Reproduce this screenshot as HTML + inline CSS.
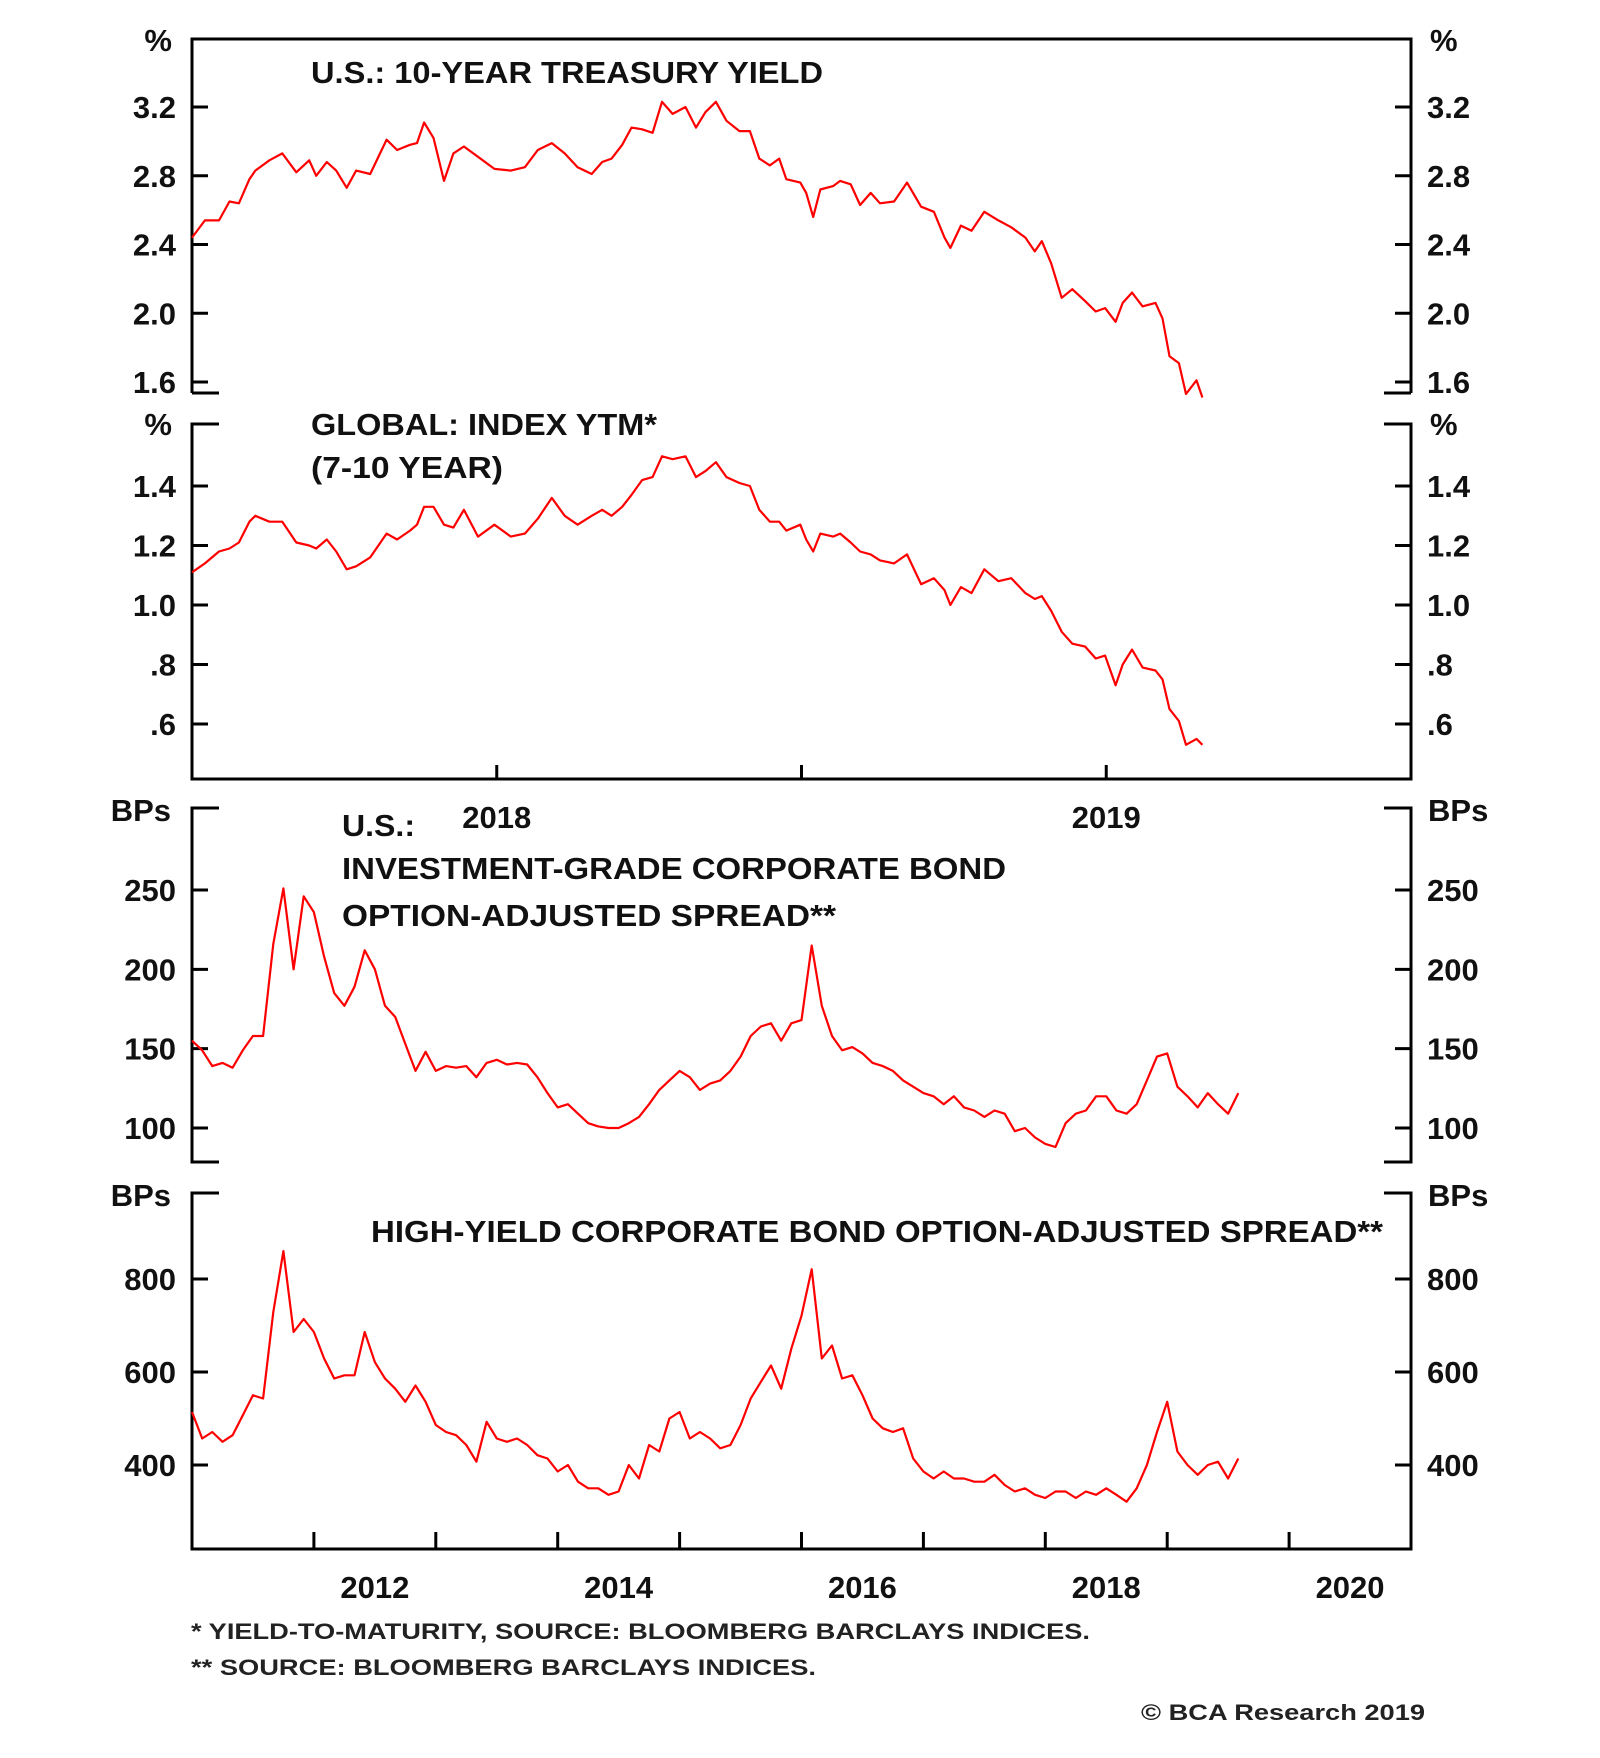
<!DOCTYPE html>
<html><head><meta charset="utf-8"><style>
html,body{margin:0;padding:0;background:#fff}
svg{display:block}
text{font-family:"Liberation Sans",Arial,sans-serif;fill:#111}
.t{font-weight:bold;font-size:31px}
.ttl{font-weight:bold;font-size:31px}
.fn{font-size:22px;font-weight:bold;fill:#222}
</style></head><body>
<svg id="chart" width="1600" height="1758" viewBox="0 0 1600 1758">
<rect x="0" y="0" width="1600" height="1758" fill="#fff"/>
<g id="frames" fill="none" stroke="#000" stroke-width="3"></g>
<g id="ticks" stroke="#000" stroke-width="3"></g>
<g id="labels"></g>
<g id="lines" fill="none" stroke="#ff0000" stroke-width="2.2" stroke-linejoin="round"></g>
<text class="ttl" x="311" y="83" textLength="512" lengthAdjust="spacingAndGlyphs">U.S.: 10-YEAR TREASURY YIELD</text>
<text class="ttl" x="311" y="435" textLength="346" lengthAdjust="spacingAndGlyphs">GLOBAL: INDEX YTM*</text>
<text class="ttl" x="311" y="478" textLength="192" lengthAdjust="spacingAndGlyphs">(7-10 YEAR)</text>
<text class="ttl" x="342" y="836" textLength="73" lengthAdjust="spacingAndGlyphs">U.S.:</text>
<text class="ttl" x="342" y="879" textLength="664" lengthAdjust="spacingAndGlyphs">INVESTMENT-GRADE CORPORATE BOND</text>
<text class="ttl" x="342" y="926" textLength="494" lengthAdjust="spacingAndGlyphs">OPTION-ADJUSTED SPREAD**</text>
<text class="ttl" x="371" y="1242" textLength="1012" lengthAdjust="spacingAndGlyphs">HIGH-YIELD CORPORATE BOND OPTION-ADJUSTED SPREAD**</text>
<text class="fn" x="191" y="1639" textLength="899" lengthAdjust="spacingAndGlyphs">*  YIELD-TO-MATURITY, SOURCE: BLOOMBERG BARCLAYS INDICES.</text>
<text class="fn" x="191" y="1675" textLength="625" lengthAdjust="spacingAndGlyphs">** SOURCE: BLOOMBERG BARCLAYS INDICES.</text>
<text class="fn" x="1141" y="1720" textLength="284" lengthAdjust="spacingAndGlyphs">© BCA Research 2019</text>
</svg>
<script>
const weeks = [0,1.1,2.3,3.2,4.0,4.9,5.4,6.6,7.7,8.9,10,10.6,11.5,12.3,13.2,14,15.2,16.6,17.5,18.6,19.2,19.8,20.6,21.5,22.3,23.2,24.4,25.8,27.2,28.4,29.5,30.7,31.8,32.9,34.1,35,35.8,36.7,37.5,38.4,39.3,40.1,41,42.1,43,43.8,44.7,45.6,46.7,47.6,48.4,49.3,50.1,50.7,51.9,52.4,53,53.6,54.7,55.3,56.2,57,57.9,58.7,59.9,61,62.2,63.3,64.2,64.7,65.6,66.5,67.6,68.8,69.9,71.1,71.9,72.5,73.3,74.2,75.1,76.2,77.1,77.9,78.8,79.4,80.2,81.1,82.2,82.8,83.4,84.2,84.8,85.7,86.2];
const ust10y = [2.44,2.54,2.54,2.65,2.64,2.78,2.83,2.89,2.93,2.82,2.89,2.80,2.88,2.83,2.73,2.83,2.81,3.01,2.95,2.98,2.99,3.11,3.02,2.77,2.93,2.97,2.91,2.84,2.83,2.85,2.95,2.99,2.93,2.85,2.81,2.88,2.90,2.98,3.08,3.07,3.05,3.23,3.16,3.20,3.08,3.17,3.23,3.12,3.06,3.06,2.90,2.86,2.90,2.78,2.76,2.70,2.56,2.72,2.74,2.77,2.75,2.63,2.70,2.64,2.65,2.76,2.62,2.59,2.44,2.38,2.51,2.48,2.59,2.54,2.50,2.44,2.36,2.42,2.29,2.09,2.14,2.07,2.01,2.03,1.95,2.06,2.12,2.04,2.06,1.97,1.75,1.71,1.53,1.61,1.51];
const globalYtm = [1.11,1.14,1.18,1.19,1.21,1.28,1.30,1.28,1.28,1.21,1.20,1.19,1.22,1.18,1.12,1.13,1.16,1.24,1.22,1.25,1.27,1.33,1.33,1.27,1.26,1.32,1.23,1.27,1.23,1.24,1.29,1.36,1.30,1.27,1.30,1.32,1.30,1.33,1.37,1.42,1.43,1.50,1.49,1.50,1.43,1.45,1.48,1.43,1.41,1.40,1.32,1.28,1.28,1.25,1.27,1.22,1.18,1.24,1.23,1.24,1.21,1.18,1.17,1.15,1.14,1.17,1.07,1.09,1.05,1.00,1.06,1.04,1.12,1.08,1.09,1.04,1.02,1.03,0.98,0.91,0.87,0.86,0.82,0.83,0.73,0.80,0.85,0.79,0.78,0.75,0.65,0.61,0.53,0.55,0.53];
const igSpread = [155,149,139,141,138,149,158,158,216,251,200,246,236,208,185,177,189,212,200,177,170,153,136,148,136,139,138,139,132,141,143,140,141,140,132,122,113,115,109,103,101,100,100,103,107,115,124,130,136,132,124,128,130,136,145,158,164,166,155,166,168,215,177,158,149,151,147,141,139,136,130,126,122,120,115,120,113,111,107,111,109,98,100,94,90,88,103,109,111,120,120,111,109,115,130,145,147,126,120,113,122,115,109,122];
const hySpread = [514,457,471,450,464,507,550,543,729,860,686,714,686,629,586,593,593,686,621,586,564,536,571,536,486,471,464,443,407,493,457,450,457,443,421,414,386,400,364,350,350,336,343,400,371,443,429,500,514,457,471,457,436,443,486,543,579,614,564,650,721,821,629,657,586,593,550,500,479,471,479,414,386,371,386,371,371,364,364,379,357,343,350,336,329,343,343,329,343,336,350,336,321,350,400,471,536,429,400,379,400,407,371,414];
const ustTicks = ["3.2","2.8","2.4","2.0","1.6"];
const ustTickVals = [3.2,2.8,2.4,2.0,1.6];
const gTicks = ["1.4","1.2","1.0",".8",".6"];
const gTickVals = [1.4,1.2,1.0,0.8,0.6];
const igTickVals = [250,200,150,100];
const hyTickVals = [800,600,400];
const topYearLabels = ["2018","2019"];
const topYearWeeks = [26,78];
const topTickWeeks = [26,52,78];
const bottomYearLabels = ["2012","2014","2016","2018","2020"];
const bottomYears = [2012,2014,2016,2018,2020];

const NS="http://www.w3.org/2000/svg";
const L=192,R=1411;
const xw = w => L + w/104*(R-L);
const xm = m => L + m/120*(R-L);
const xy = y => L + (y-2011)*12/120*(R-L);
const lin=(v0,p0,v1,p1)=>v=>p0+(v-v0)/(v1-v0)*(p1-p0);
const y1=lin(3.2,107,1.6,382), y2=lin(1.4,486,0.6,724), y3=lin(250,890,100,1128), y4=lin(800,1279,400,1465);

function mk(parent,tag,attrs,txt){const e=document.createElementNS(NS,tag);for(const k in attrs)e.setAttribute(k,attrs[k]);if(txt!=null)e.textContent=txt;document.getElementById(parent).appendChild(e);return e;}

// frames
const fr=[];
fr.push(`M${L} 393 V39 H${R} V393`);
fr.push(`M${L} 393 H${L+27} M${R} 393 H${R-27}`);
fr.push(`M${L+27} 424 H${L} V779 H${R} V424 H${R-27}`);
fr.push(`M${L+27} 808 H${L} V1162 H${L+27} M${R-27} 808 H${R} V1162 H${R-27}`);
fr.push(`M${L+27} 1193 H${L} V1549 H${R} V1193 H${R-27}`);
const fp=mk('frames','path',{d:fr.join(' ')});



function yAxis(vals,labs,sc,name){
  vals.forEach((v,i)=>{
    const y=sc(v);
    const t=mk('ticks','path',{d:`M${L} ${y} H${L+16} M${R} ${y} H${R-16}`});
    
    
    const a=mk('labels','text',{x:176,y:y+11,'text-anchor':'end',class:'t'},labs[i]);
    
    
    const b=mk('labels','text',{x:1427,y:y+11,class:'t'},labs[i]);
    
    
  });
}
yAxis(ustTickVals,ustTicks,y1,'ust-axis');
yAxis(gTickVals,gTicks,y2,'global-axis');
yAxis(igTickVals,igTickVals.map(String),y3,'ig-axis');
yAxis(hyTickVals,hyTickVals.map(String),y4,'hy-axis');

[["%",51],["%",435],["BPs",821],["BPs",1206]].forEach(([u,y],i)=>{
  const a=mk('labels','text',{x:u=="%"?172:171,y:y,'text-anchor':'end',class:'t'},u);
  
  
  const b=mk('labels','text',{x:u=="%"?1430:1428,y:y,class:'t'},u);
  
  
});

topTickWeeks.forEach(w=>{
  const t=mk('ticks','path',{d:`M${xw(w)} 779 V765`});
  
  
});
topYearLabels.forEach((s,i)=>{
  const a=mk('labels','text',{x:xw(topYearWeeks[i]),y:828,'text-anchor':'middle',class:'t'},s);
  
  
});
for(let yr=2012;yr<=2020;yr++){
  const t=mk('ticks','path',{d:`M${xy(yr)} 1549 V1532`});
  
  
}
bottomYearLabels.forEach((s,i)=>{
  const a=mk('labels','text',{x:xy(bottomYears[i]+0.5),y:1598,'text-anchor':'middle',class:'t'},s);
  
  
});

function line(xs,vs,xf,yf,name){
  const d=vs.map((v,i)=>(i?'L':'M')+xf(xs[i]).toFixed(1)+' '+yf(v).toFixed(1)).join(' ');
  const p=mk('lines','path',{d:d});
  
  
}
line(weeks,ust10y,xw,y1,'ust-10y-line');
line(weeks,globalYtm,xw,y2,'global-ytm-line');
const months=igSpread.map((_,i)=>i);
line(months,igSpread,xm,y3,'ig-spread-line');
line(months,hySpread,xm,y4,'hy-spread-line');
</script>
</body></html>
